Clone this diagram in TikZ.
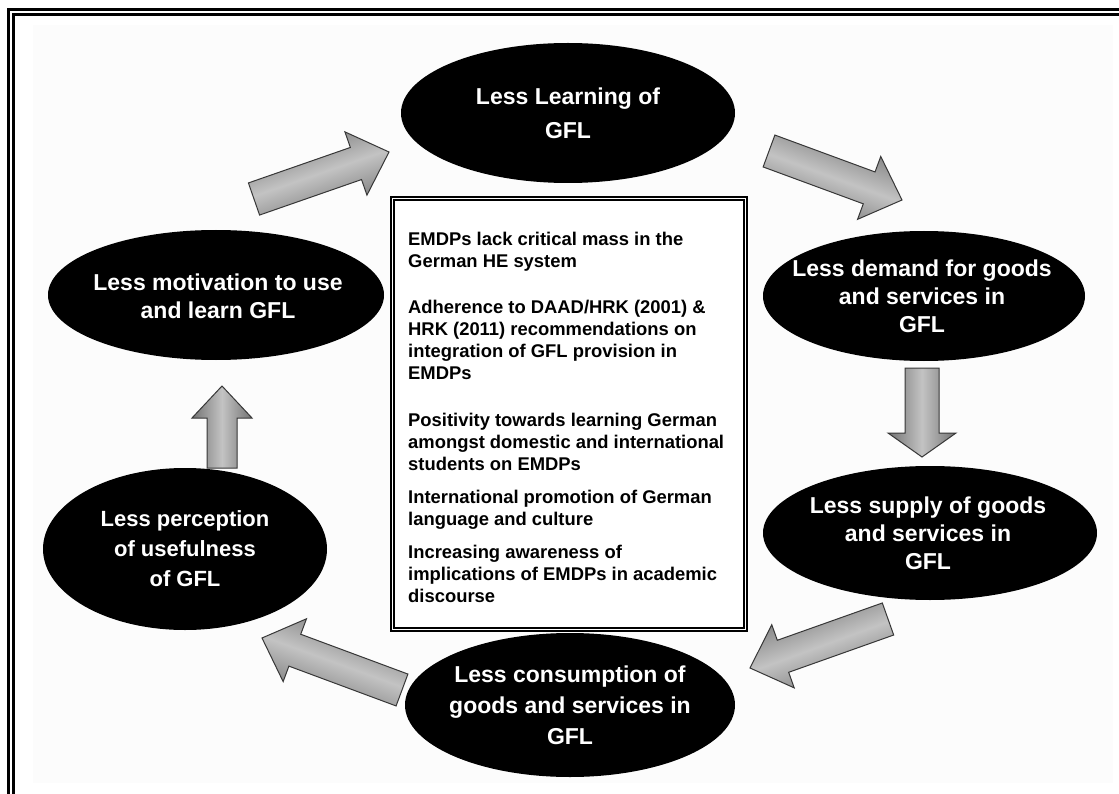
\documentclass[tikz,border=0pt]{standalone}
\usepackage{fontspec}
\setmainfont{Liberation Sans}
\usetikzlibrary{calc,shapes.geometric}

\definecolor{arrowedge}{RGB}{55,55,55}
\definecolor{arrowdark}{RGB}{115,115,115}
\definecolor{arrowlight}{RGB}{195,195,195}
\definecolor{panel}{RGB}{252,252,252}

\tikzset{
  oval/.style={ellipse, fill=black, inner sep=0pt, outer sep=0pt},
  ovaltext/.style={text=white, align=center, inner sep=0pt,
    font=\bfseries\fontsize{23}{28}\selectfont},
  boxtext/.style={anchor=base west, align=left, inner sep=0pt,
    font=\bfseries\fontsize{18.4}{22}\selectfont},
  barrow/.style={draw=arrowedge, line width=1pt, line join=miter,
    top color=arrowdark, bottom color=arrowdark, middle color=arrowlight,
    shading angle=#1},
}

% block arrow from #1 (tail centre) to #2 (tip)
% #3 half shaft width, #4 half head width, #5 head length, #6 shading angle
\newcommand\blockarrow[6]{%
  \coordinate (hb) at ($(#2)!#5pt!(#1)$);
  \path[barrow=#6]
    ($(#1)!#3pt!90:(#2)$) -- ($(hb)!#3pt!90:(#2)$) -- ($(hb)!#4pt!90:(#2)$)
    -- (#2) -- ($(hb)!#4pt!-90:(#2)$) -- ($(hb)!#3pt!-90:(#2)$)
    -- ($(#1)!#3pt!-90:(#2)$) -- cycle;
}

\begin{document}
\begin{tikzpicture}[x=1pt, y=-1pt]
  \useasboundingbox (0,0) rectangle (1119,794);
  \clip (0,0) rectangle (1119,794);
  \fill[white] (0,0) rectangle (1119,794);
  \fill[panel] (33,25) rectangle (1113,783);

  % page frame (runs off the right and bottom edges)
  \draw[line width=2.5pt] (8.7,9.3) rectangle (1140,820);
  \draw[line width=3pt] (13.8,14.6) rectangle (1135,815);

  % cycle of ovals
  \node[oval, minimum width=334, minimum height=140] (learn)   at (568,113) {};
  \node[oval, minimum width=322, minimum height=130] (demand)  at (924,296) {};
  \node[oval, minimum width=334, minimum height=134] (supply)  at (930,533) {};
  \node[oval, minimum width=330, minimum height=144] (consume) at (570,705) {};
  \node[oval, minimum width=284, minimum height=162] (useful)  at (185,549) {};
  \node[oval, minimum width=336, minimum height=130] (motiv)   at (216,295) {};

  \node[ovaltext, font=\bfseries\fontsize{23}{34}\selectfont] at (learn) {Less Learning of\\GFL};
  \node[ovaltext] at ($(demand)+(-2,0)$) {Less demand for goods\\and services in\\GFL};
  \node[ovaltext] at ($(supply)+(-2,0)$) {Less supply of goods\\and services in\\GFL};
  \node[ovaltext, font=\bfseries\fontsize{23}{31}\selectfont] at (consume) {Less consumption of\\goods and services in\\GFL};
  \node[ovaltext, font=\bfseries\fontsize{22}{30}\selectfont] at (useful) {Less perception\\of usefulness\\of GFL};
  \node[ovaltext] at ($(motiv)+(2,1)$) {Less motivation to use\\and learn GFL};

  % arrow end points
  \coordinate (a1s) at (254,199); \coordinate (a1e) at (389,152);
  \coordinate (a2s) at (769,151); \coordinate (a2e) at (902,200);
  \coordinate (a3s) at (922,368); \coordinate (a3e) at (922,457);
  \coordinate (a4s) at (888,619); \coordinate (a4e) at (750,668);
  \coordinate (a5s) at (402,690); \coordinate (a5e) at (262,638);
  \coordinate (a6s) at (222,468); \coordinate (a6e) at (222,386);

  \blockarrow{a1s}{a1e}{17}{33.5}{35}{19}
  \blockarrow{a2s}{a2e}{17}{33.5}{35}{-20}
  \blockarrow{a3s}{a3e}{17}{34}{24}{90}
  \blockarrow{a4s}{a4e}{17}{33.5}{35}{20}
  \blockarrow{a5s}{a5e}{17}{33.5}{35}{-20}
  \blockarrow{a6s}{a6e}{15}{30}{32}{90}

  % central panel of factors
  \node[draw, fill=white, line width=2pt, minimum width=356, minimum height=434,
        inner sep=0pt] (panelbox) at (569,414) {};
  \draw[line width=1.2pt] ($(panelbox.north west)+(4,4)$) rectangle ($(panelbox.south east)+(-4,-4)$);

  % each factor is placed by the baseline of its last line
  \node[boxtext] (f1) at (408,268) {EMDPs lack critical mass in the\\German HE system};
  \node[boxtext] (f2) at (408,379) {Adherence to DAAD/HRK (2001) \&\\HRK (2011) recommendations on\\integration of GFL provision in\\EMDPs};
  \node[boxtext] (f3) at (408,470) {Positivity towards learning German\\amongst domestic and international\\students on EMDPs};
  \node[boxtext] (f4) at (408,525) {International promotion of German\\language and culture};
  \node[boxtext] (f5) at (408,602) {Increasing awareness of\\implications of EMDPs in academic\\discourse};
\end{tikzpicture}
\end{document}
